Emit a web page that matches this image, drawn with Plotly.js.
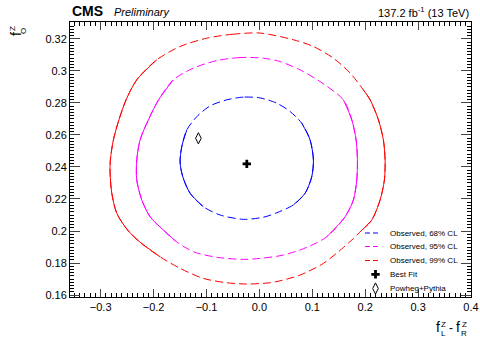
<!DOCTYPE html>
<html>
<head>
<meta charset="utf-8">
<script src="https://cdn.plot.ly/plotly-3.0.1.min.js"></script>
<style>html,body{margin:0;padding:0;background:#fff;}#chart{width:480px;height:339px;}</style>
</head>
<body>
<div id="chart"></div>
<script>
// ---- data ----
const cl68_x = [0.0013,-0.0302,-0.0616,-0.0932,-0.1183,-0.1372,-0.1467,-0.1499,-0.1448,-0.131,-0.1059,-0.0743,-0.0302,0.0076,0.0329,0.0643,0.0864,0.099,0.1021,0.0958,0.0801,0.058,0.0329,0.0013];
const cl68_y = [0.2831,0.2836,0.2819,0.2781,0.2714,0.2631,0.2527,0.2430,0.2339,0.2236,0.2152,0.2100,0.2073,0.2086,0.2114,0.2163,0.2236,0.2339,0.2444,0.2569,0.2673,0.2746,0.2798,0.2831];
const cl95_x = [0.0076,-0.0365,-0.0805,-0.1248,-0.1626,-0.1905,-0.2098,-0.2255,-0.2318,-0.2318,-0.2223,-0.2066,-0.1815,-0.1584,-0.1248,-0.0805,-0.0302,0.0013,0.0454,0.0896,0.1274,0.162,0.1777,0.1841,0.1853,0.1828,0.1747,0.1588,0.1147,0.0769,0.0391,0.0076];
const cl95_y = [0.3079,0.3083,0.3064,0.3017,0.2944,0.2819,0.2694,0.2569,0.2444,0.2319,0.2194,0.2089,0.2006,0.1937,0.1871,0.1836,0.1823,0.1829,0.1850,0.1898,0.1964,0.2089,0.2194,0.2319,0.2444,0.2569,0.2694,0.2819,0.2933,0.3006,0.3058,0.3079];
const cl99_x = [0.0013,-0.0491,-0.0994,-0.15,-0.194,-0.2318,-0.252,-0.2655,-0.276,-0.2817,-0.2822,-0.279,-0.2696,-0.2491,-0.2255,-0.1877,-0.15,-0.1059,-0.0616,-0.0238,0.0202,0.0391,0.0769,0.121,0.1588,0.1747,0.1936,0.2125,0.2282,0.2363,0.2376,0.2344,0.225,0.2093,0.1966,0.1715,0.1399,0.102,0.0643,0.0013];
const cl99_y = [0.3236,0.3229,0.3204,0.3152,0.3069,0.2944,0.2819,0.2694,0.2569,0.2444,0.2361,0.2236,0.2111,0.2006,0.1930,0.1839,0.1767,0.1704,0.1677,0.1669,0.1677,0.1689,0.1725,0.1798,0.1897,0.1944,0.2005,0.2069,0.2194,0.2319,0.2444,0.2569,0.2694,0.2819,0.2881,0.2986,0.3079,0.3152,0.3194,0.3236];
const bestfit_x = [-0.0238];
const bestfit_y = [0.2419];
const powheg_x = [-0.1153];
const powheg_y = [0.2579];
const seriesNames = ["Observed, 68% CL","Observed, 95% CL","Observed, 99% CL","Best Fit","Powheg+Pythia"];

// ---- styling ----
const dashPat = "8px,4px";
const font = "Liberation Sans, Arial, Helvetica, sans-serif";
// index ranges where the ROOT drawing looks solid (steep sides)
const contours = [
  {x: cl68_x, y: cl68_y, color: "#0000ff", name: seriesNames[0], solid: [[5, 10], [15, 20]]},
  {x: cl95_x, y: cl95_y, color: "#ff00ff", name: seriesNames[1], solid: [[4, 13], [20, 27]]},
  {x: cl99_x, y: cl99_y, color: "#ff0000", name: seriesNames[2], solid: [[4, 15], [26, 34]]}
];
const traces = [];
function seg(xs, ys, dash, color){
  const l = {color: color, width: 1, shape: "spline", smoothing: 0.8};
  if (dash) l.dash = dash;
  return {x: xs, y: ys, type: "scatter", mode: "lines", showlegend: false, hoverinfo: "skip", line: l};
}
contours.forEach(c => {
  traces.push(seg(c.x, c.y, dashPat, c.color));
  c.solid.forEach(r => traces.push(seg(c.x.slice(r[0], r[1] + 1), c.y.slice(r[0], r[1] + 1), null, c.color)));
});
traces.push({x: bestfit_x, y: bestfit_y, type: "scatter", mode: "markers", name: seriesNames[3], showlegend: false,
  marker: {symbol: "cross", size: 7, color: "#000"}});
traces.push({x: powheg_x, y: powheg_y, type: "scatter", mode: "markers", name: seriesNames[4], showlegend: false,
  marker: {symbol: "diamond-tall-open", size: 8, color: "#000", line: {width: 1, color: "#000"}}});

// ---- hand-made legend (on an overlay axis spanning the plot area 0..1) ----
function px(xp){ return (xp - 70) / 401; }
function py(yp){ return (297 - yp) / 275; }
const legRowY = [233, 246.5, 260.5, 274.3, 288.5].map(py);
const legLineX = [px(365), px(379)];
const legMarkX = px(375.5);
const legTextX = px(388);
const annotations = [];
contours.forEach((c, i) => {
  traces.push({x: legLineX, y: [legRowY[i], legRowY[i]], xaxis: "x2", yaxis: "y2", type: "scatter", mode: "lines",
    showlegend: false, hoverinfo: "skip", line: {color: c.color, width: 1, dash: "5px,3px"}});
});
traces.push({x: [legMarkX], y: [legRowY[3]], xaxis: "x2", yaxis: "y2", type: "scatter", mode: "markers",
  showlegend: false, marker: {symbol: "cross", size: 7, color: "#000"}});
traces.push({x: [legMarkX], y: [legRowY[4]], xaxis: "x2", yaxis: "y2", type: "scatter", mode: "markers",
  showlegend: false, marker: {symbol: "diamond-tall-open", size: 8, color: "#000", line: {width: 1, color: "#000"}}});
seriesNames.forEach((n, i) => {
  annotations.push({xref: "paper", yref: "paper", x: legTextX, xanchor: "left", y: legRowY[i], yanchor: "middle",
    text: n, showarrow: false, font: {family: font, size: 8, color: "#000"}});
});

// ---- header and axis titles ----
function lab(t, xp, yp, size, extra){
  return Object.assign({xref: "paper", yref: "paper", x: px(xp), y: py(yp), xanchor: "center", yanchor: "middle",
    text: t, showarrow: false, font: {family: font, size: size, color: "#000"}}, extra || {});
}
annotations.push(
  {xref: "paper", yref: "paper", x: 0, xanchor: "left", y: 1, yanchor: "bottom", yshift: 1,
    text: "<b>CMS</b>", showarrow: false, font: {family: font, size: 14}},
  {xref: "paper", yref: "paper", x: px(112), xanchor: "left", y: 1, yanchor: "bottom", yshift: 2,
    text: "<i>Preliminary</i>", showarrow: false, font: {family: font, size: 11}},
  {xref: "paper", yref: "paper", x: 1, xanchor: "right", y: 1, yanchor: "bottom", yshift: 1,
    text: "137.2 fb<sup>-1</sup> (13 TeV)", showarrow: false, font: {family: font, size: 11}},
  // x title
  lab("f", 437.5, 327, 14),
  lab("Z", 443.5, 324.5, 8),
  lab("L", 443.5, 333, 8),
  lab("-", 450.5, 327.5, 12),
  lab("f", 457.5, 327, 14),
  lab("Z", 464, 324.5, 8),
  lab("R", 464, 333, 8),
  // y title
  lab("f", 16, 34, 14, {textangle: -90}),
  lab("O", 24, 31, 8, {textangle: -90}),
  lab("Z", 12.5, 28.5, 8, {textangle: -90})
);

const layout = {
  width: 480, height: 339,
  margin: {l: 70, r: 9, t: 22, b: 42},
  paper_bgcolor: "#fff", plot_bgcolor: "#fff",
  font: {family: font, size: 11, color: "#000"},
  showlegend: false,
  xaxis: {range: [-0.358, 0.4], dtick: 0.1, tick0: 0, ticks: "inside", ticklen: 8, tickwidth: 1,
    showline: true, linecolor: "#000", linewidth: 1, mirror: "allticks", showgrid: false, zeroline: false,
    tickfont: {family: font, size: 11}, tickformat: ".1f",
    minor: {dtick: 0.01, ticks: "inside", ticklen: 4, tickcolor: "#000", showgrid: false}},
  yaxis: {range: [0.1588, 0.3305], dtick: 0.02, tick0: 0, ticks: "inside", ticklen: 10, tickwidth: 1,
    showline: true, linecolor: "#000", linewidth: 1, mirror: "allticks", showgrid: false, zeroline: false,
    tickfont: {family: font, size: 11},
    minor: {dtick: 0.002, ticks: "inside", ticklen: 4, tickcolor: "#000", showgrid: false}},
  xaxis2: {overlaying: "x", range: [0, 1], visible: false, fixedrange: true},
  yaxis2: {overlaying: "y", range: [0, 1], visible: false, fixedrange: true},
  annotations: annotations
};
Plotly.newPlot("chart", traces, layout, {displayModeBar: false, staticPlot: true});
</script>
</body>
</html>
